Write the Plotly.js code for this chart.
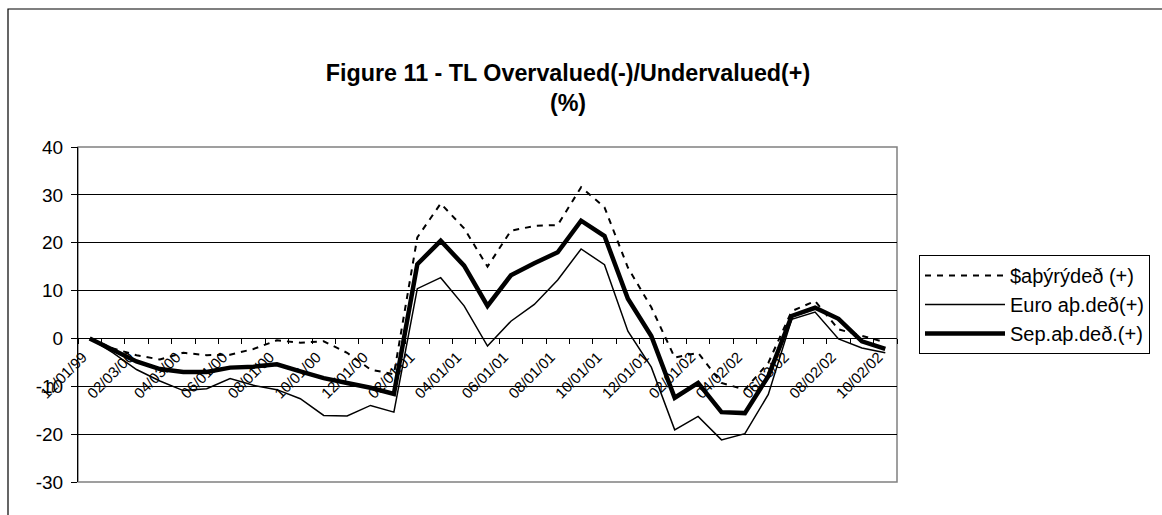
<!DOCTYPE html>
<html>
<head>
<meta charset="utf-8">
<script src="https://cdn.plot.ly/plotly-3.0.1.min.js"></script>
<style>
  html, body { margin: 0; padding: 0; background: #fff; }
  #chart { width: 1162px; height: 515px; }
</style>
</head>
<body>
<div id="chart"></div>
<script>
// Monthly observations, Dec 1999 .. Oct 2002 (35 months)
const months = [
  "12/01/99","01/00","02/03/00","03/00","04/03/00","05/00","06/01/00","07/00","08/01/00","09/00",
  "10/01/00","11/00","12/01/00","01/01","02/01/01","03/01","04/01/01","05/01","06/01/01","07/01",
  "08/01/01","09/01","10/01/01","11/01","12/01/01","01/02","02/01/02","03/02","04/02/02","05/02",
  "06/03/02","07/02","08/02/02","09/02","10/02/02"
];
// Tick labels shown every second month
const tickLabels = [
  "12/01/99","02/03/00","04/03/00","06/01/00","08/01/00","10/01/00","12/01/00",
  "02/01/01","04/01/01","06/01/01","08/01/01","10/01/01","12/01/01",
  "02/01/02","04/02/02","06/03/02","08/02/02","10/02/02"
];
const yTickValues = [-30, -20, -10, 0, 10, 20, 30, 40];
const seriesNames = ["$aþýrýdeð (+)", "Euro aþ.deð(+)", "Sep.aþ.deð.(+)"];

const usdValues = [
  0, -2.1, -3.5, -4.4, -3.0, -3.5, -3.4, -2.2, -0.4, -0.9,
  -0.6, -3.0, -6.5, -7.5, 21.1, 28.2, 23.0, 15.0, 22.5, 23.5,
  23.7, 31.6, 27.4, 14.8, 6.5, -4.0, -3.0, -9.3, -10.7, -5.1,
  5.7, 7.8, 1.9, 0.5, -0.8
];
const euroValues = [
  0, -3.0, -6.5, -8.9, -10.9, -10.5, -8.4, -9.8, -10.7, -12.6,
  -16.1, -16.2, -14.0, -15.4, 10.4, 12.7, 6.8, -1.6, 3.6, 7.1,
  12.2, 18.7, 15.4, 1.5, -6.0, -19.1, -16.3, -21.2, -19.9, -11.7,
  4.0, 5.5, -0.1, -2.0, -3.0
];
const basketValues = [
  0, -2.5, -4.8, -6.4, -7.0, -7.0, -6.1, -5.9, -5.4, -6.9,
  -8.3, -9.3, -10.3, -11.6, 15.5, 20.4, 15.2, 6.8, 13.2, 15.7,
  18.0, 24.6, 21.4, 8.3, 0.5, -12.4, -9.3, -15.4, -15.6, -7.9,
  4.7, 6.4, 4.1, -0.6, -2.2
];

const xIdx = months.map((m, i) => i);
const tickIdx = tickLabels.map(l => months.indexOf(l));

const FONT = '"Liberation Sans", Arial, Helvetica, sans-serif';

const traces = [
  { x: xIdx, y: usdValues, name: seriesNames[0], type: 'scatter', mode: 'lines',
    text: months, hoverinfo: 'text+y',
    line: { color: '#000', width: 2, dash: '6px,6px' } },
  { x: xIdx, y: euroValues, name: seriesNames[1], type: 'scatter', mode: 'lines',
    text: months, hoverinfo: 'text+y',
    line: { color: '#000', width: 1.5 } },
  { x: xIdx, y: basketValues, name: seriesNames[2], type: 'scatter', mode: 'lines',
    text: months, hoverinfo: 'text+y',
    line: { color: '#000', width: 4.5 } }
];

// plot area in px: left 78, right 897, top 147, bottom 482
const L = 78, R = 897, T = 147, B = 482;
const W = R - L, H = B - T;
const px2x = p => (p - L) / W;
const px2y = p => (B - p) / H;

const layout = {
  width: 1162, height: 515,
  margin: { l: L, r: 1162 - R, t: T, b: 515 - B, pad: 0 },
  paper_bgcolor: '#fff', plot_bgcolor: '#fff',
  font: { family: FONT, color: '#000' },
  showlegend: true,
  title: {
    text: '<b>Figure 11 - TL Overvalued(-)/Undervalued(+)</b><br><b>(%)</b>',
    font: { family: FONT, size: 23.3, color: '#000' },
    x: 568 / 1162, xref: 'container', xanchor: 'center',
    y: 1 - 81 / 515, yref: 'container', yanchor: 'middle'
  },
  xaxis: {
    type: 'linear',
    range: [-0.5, months.length - 0.5],
    anchor: 'free', position: 30 / 70,
    showline: true, linecolor: '#000', linewidth: 1,
    showgrid: false, zeroline: false,
    tickmode: 'array', tickvals: tickIdx, ticktext: tickLabels,
    ticks: '', tickangle: -45,
    ticklabelshift: -7, ticklabelstandoff: 3,
    tickfont: { family: FONT, size: 15, color: '#000' },
    minor: { tickmode: 'linear', tick0: -0.5, dtick: 1, ticks: 'outside', ticklen: 5, tickcolor: '#000', tickwidth: 1, showgrid: false },
    fixedrange: true
  },
  yaxis: {
    range: [-30, 40],
    tickmode: 'array', tickvals: yTickValues, ticktext: yTickValues.map(v => String(v)),
    showline: true, linecolor: '#000', linewidth: 1,
    ticks: 'outside', ticklen: 6, tickcolor: '#000',
    showgrid: true, gridcolor: '#000', gridwidth: 1,
    zeroline: false,
    tickfont: { family: FONT, size: 19, color: '#000' },
    ticklabelstandoff: 4,
    fixedrange: true
  },
  legend: {
    x: px2x(919), xanchor: 'left',
    y: px2y(255), yanchor: 'top',
    bgcolor: '#fff', bordercolor: '#000', borderwidth: 1,
    font: { family: FONT, size: 20, color: '#000' },
    itemwidth: 80
  },
  shapes: [
    // plot area border (grey)
    { type: 'rect', xref: 'paper', yref: 'paper', x0: 0, x1: 1, y0: 0, y1: 1,
      line: { color: '#808080', width: 1.5 }, fillcolor: 'rgba(0,0,0,0)', layer: 'below' },
    // outer chart border (right/bottom edges fall outside the picture)
    { type: 'rect', xref: 'paper', yref: 'paper',
      x0: px2x(8), x1: px2x(1170), y0: px2y(525), y1: px2y(9),
      line: { color: '#000', width: 1.2 }, fillcolor: 'rgba(0,0,0,0)', layer: 'below' }
  ]
};

Plotly.newPlot('chart', traces, layout, { displayModeBar: false, staticPlot: true });
</script>
</body>
</html>
